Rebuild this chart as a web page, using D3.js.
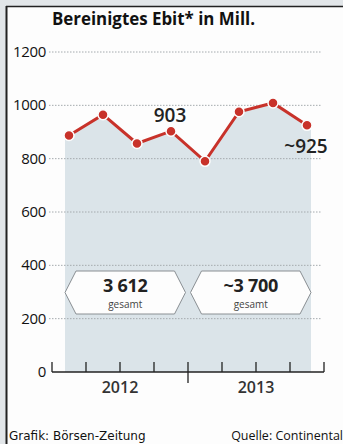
<!DOCTYPE html>
<html>
<head>
<meta charset="utf-8">
<script src="https://cdn.jsdelivr.net/npm/d3@7"></script>
<style>
  body { margin: 0; background: #e2e6e9; }
  svg { display: block; }
</style>
</head>
<body>
<div id="chart"></div>
<script>
var quarters = ["Q1 2012", "Q2 2012", "Q3 2012", "Q4 2012", "Q1 2013", "Q2 2013", "Q3 2013", "Q4 2013"];
var ebit = [887, 965, 857, 903, 790, 976, 1009, 925];
var years = ["2012", "2013"];
var totals = ["3 612", "~3 700"];
var yTicks = [0, 200, 400, 600, 800, 1000, 1200];
var callouts = [{i: 3, text: "903"}, {i: 7, text: "~925"}];

var w = 343, h = 444;
var svg = d3.select("#chart").append("svg")
    .attr("width", w)
    .attr("height", h);

// Rahmen
svg.append("rect").attr("x", 0).attr("y", 0).attr("width", w).attr("height", h).attr("fill", "#e2e6e9");
svg.append("rect").attr("x", 6).attr("y", 6).attr("width", w - 6).attr("height", h - 6).attr("fill", "#fdfdfd");
svg.append("line").attr("x1", 6).attr("x2", w).attr("y1", 6.5).attr("y2", 6.5).attr("stroke", "#222").attr("stroke-width", 1.5);
svg.append("line").attr("x1", 6.5).attr("x2", 6.5).attr("y1", 6).attr("y2", h).attr("stroke", "#222").attr("stroke-width", 2);

var x = d3.scaleBand().domain(quarters).range([52, 324]);
var y = d3.scaleLinear().domain([0, 1200]).range([372, 52]);
var cx = function(d, i) { return x(quarters[i]) + x.bandwidth() / 2; };

// Titel
svg.append("text")
    .attr("x", 52).attr("y", 25)
    .attr("font-family", "Open Sans").attr("font-weight", "bold")
    .attr("font-size", "17px").attr("fill", "#111")
    .attr("textLength", 203).attr("lengthAdjust", "spacingAndGlyphs")
    .text("Bereinigtes Ebit* in Mill.");

// Fläche
var x0 = cx(null, 0) - 4, x1 = cx(null, ebit.length - 1) + 4;
var pts = ebit.map(function(d, i) { return [cx(d, i), y(d)]; });
pts.unshift([x0, y(ebit[0])]);
pts.push([x1, y(ebit[ebit.length - 1])]);
var area = d3.area().x(function(d) { return d[0]; }).y0(y(0)).y1(function(d) { return d[1]; });
svg.append("path").datum(pts).attr("d", area).attr("fill", "#dbe4e9");

// Gitter
svg.selectAll(".grid")
    .data(yTicks.filter(function(d) { return d > 0; }))
    .enter().append("line")
    .attr("x1", 49).attr("x2", 322)
    .attr("y1", function(d) { return y(d); })
    .attr("y2", function(d) { return y(d); })
    .attr("stroke", "#a4aaae").attr("stroke-width", 1)
    .attr("stroke-dasharray", "1.5,1.5");

svg.selectAll(".ylab")
    .data(yTicks)
    .enter().append("text")
    .attr("x", 46)
    .attr("y", function(d) { return y(d) + 5; })
    .attr("text-anchor", "end")
    .attr("font-family", "Open Sans").attr("font-size", "15px")
    .attr("letter-spacing", "-0.3px")
    .attr("fill", "#111")
    .text(function(d) { return d; });

// Achse
svg.append("line").attr("x1", 52).attr("x2", 324).attr("y1", y(0)).attr("y2", y(0)).attr("stroke", "#222").attr("stroke-width", 1.3);
var bounds = [52].concat(quarters.map(function(q) { return x(q) + x.bandwidth(); }));
svg.selectAll(".tick")
    .data(bounds)
    .enter().append("line")
    .attr("x1", function(d) { return d; })
    .attr("x2", function(d) { return d; })
    .attr("y1", y(0) - 10)
    .attr("y2", function(d, i) { return i === 4 ? y(0) + 11 : y(0); })
    .attr("stroke", "#222").attr("stroke-width", 1.3);

svg.selectAll(".year")
    .data(years)
    .enter().append("text")
    .attr("x", function(d, i) { return (bounds[i * 4] + bounds[i * 4 + 4]) / 2; })
    .attr("y", 393)
    .attr("text-anchor", "middle")
    .attr("font-family", "Open Sans").attr("font-weight", "600").attr("font-size", "16px")
    .attr("fill", "#333")
    .text(function(d) { return d; });

// Summen-Kästen
var mid = (x0 + x1) / 2, gap = 2.5;
var boxes = [[x0, mid - gap], [mid + gap, x1]];
var by0 = 271, by1 = 314, ind = 11;
svg.selectAll(".box")
    .data(boxes)
    .enter().append("path")
    .attr("d", function(d) {
      var m = (by0 + by1) / 2;
      return "M" + d[0] + "," + m + "L" + (d[0] + ind) + "," + by0 + "L" + (d[1] - ind) + "," + by0 +
             "L" + d[1] + "," + m + "L" + (d[1] - ind) + "," + by1 + "L" + (d[0] + ind) + "," + by1 + "Z";
    })
    .attr("fill", "#fdfdfd").attr("stroke", "#8a8f93").attr("stroke-width", 1);

svg.selectAll(".total")
    .data(totals)
    .enter().append("text")
    .attr("x", function(d, i) { return (boxes[i][0] + boxes[i][1]) / 2; })
    .attr("y", 292)
    .attr("text-anchor", "middle")
    .attr("font-family", "Open Sans").attr("font-weight", "bold").attr("font-size", "18px")
    .attr("letter-spacing", "-0.3px")
    .attr("fill", "#222")
    .text(function(d) { return d; });
svg.selectAll(".ges")
    .data(totals)
    .enter().append("text")
    .attr("x", function(d, i) { return (boxes[i][0] + boxes[i][1]) / 2; })
    .attr("y", 308)
    .attr("text-anchor", "middle")
    .attr("font-family", "Open Sans").attr("font-size", "10px")
    .attr("fill", "#444")
    .text("gesamt");

// Linie und Punkte
var line = d3.line().x(function(d, i) { return cx(d, i); }).y(function(d) { return y(d); });
svg.append("path").datum(ebit).attr("d", line)
    .attr("fill", "none").attr("stroke", "#c8322a").attr("stroke-width", 3);
svg.selectAll(".dot")
    .data(ebit)
    .enter().append("circle")
    .attr("cx", cx)
    .attr("cy", function(d) { return y(d); })
    .attr("r", 5)
    .attr("fill", "#c8322a").attr("stroke", "#fdfdfd").attr("stroke-width", 1.5);

svg.selectAll(".call")
    .data(callouts)
    .enter().append("text")
    .attr("x", function(d) { return d.i === 3 ? cx(null, d.i) - 1 : cx(null, d.i) - 1; })
    .attr("y", function(d) { return d.i === 3 ? 122 : 153; })
    .attr("text-anchor", "middle")
    .attr("font-family", "Open Sans").attr("font-weight", "600").attr("font-size", "19px")
    .attr("fill", "#222")
    .text(function(d) { return d.text; });

// Fußzeile
svg.append("text").attr("x", 9).attr("y", 440)
    .attr("font-family", "DejaVu Sans").attr("font-size", "12px").attr("fill", "#111")
    .text("Grafik: Börsen-Zeitung");
svg.append("text").attr("x", 343).attr("y", 440).attr("text-anchor", "end")
    .attr("font-family", "Open Sans").attr("font-size", "12.5px").attr("fill", "#111")
    .text("Quelle: Continental");
</script>
</body>
</html>
